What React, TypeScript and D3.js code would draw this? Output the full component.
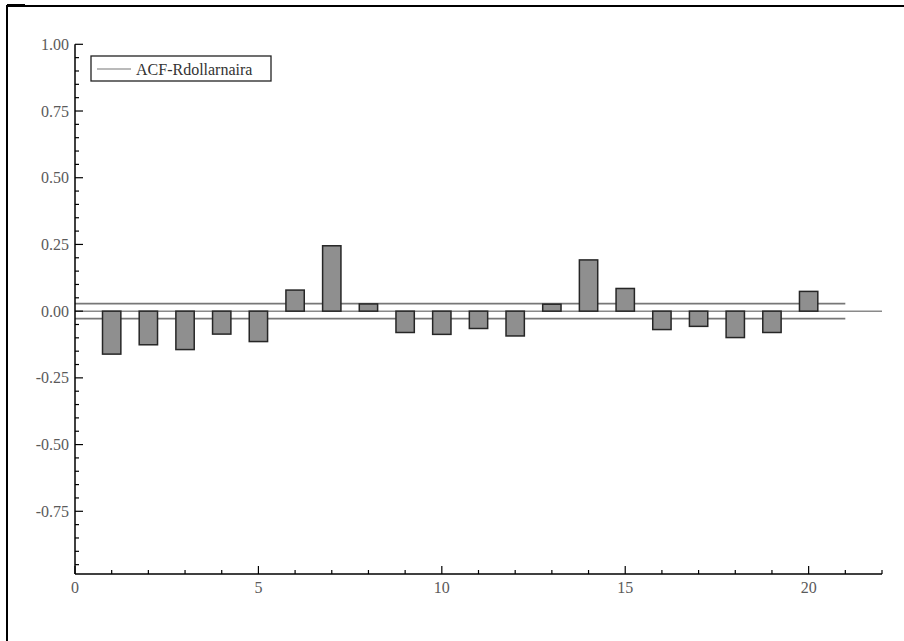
import React from "react";
import * as d3 from "d3";

// Autocorrelation of the dollar/naira return series, lags 1..20
const lags = [1, 2, 3, 4, 5, 6, 7, 8, 9, 10, 11, 12, 13, 14, 15, 16, 17, 18, 19, 20];
const acfValues = [
  -0.161, -0.126, -0.144, -0.086, -0.114, 0.079, 0.245, 0.027, -0.080, -0.087,
  -0.065, -0.093, 0.026, 0.192, 0.085, -0.069, -0.057, -0.099, -0.080, 0.074,
];
const confidenceBound = 0.028;
const seriesName = "ACF-Rdollarnaira";
const yTickLabels = [1.0, 0.75, 0.5, 0.25, 0, -0.25, -0.5, -0.75];
const xTickLabels = [0, 5, 10, 15, 20];

const W = 904;
const H = 641;
const textStyle = { fontFamily: "'Liberation Serif', 'DejaVu Serif', serif" };

export default function App() {
  const x = d3.scaleLinear().domain([0, 22]).range([75, 882]);
  const y = d3.scaleLinear().domain([-0.985, 1]).range([574, 44.3]);

  const barW = x(0.5) - x(0);
  const yMinor = d3.range(-19, 21).map((i) => i * 0.05);
  const xMinor = d3.range(0, 23);

  const fmtY = (v: number) => v.toFixed(2);

  return (
    <svg
      width={W}
      height={H}
      style={{ position: "absolute", left: 0, top: 0, background: "#fff" }}
    >
      {/* frame */}
      <line x1={7} y1={6} x2={W} y2={6} stroke="#000" strokeWidth={2} />
      <line x1={7} y1={5} x2={7} y2={H} stroke="#000" strokeWidth={2} />
      <line x1={7} y1={5.5} x2={25} y2={5.5} stroke="#000" strokeWidth={3} />

      {/* reference lines */}
      <line x1={x(0)} x2={x(22)} y1={y(0)} y2={y(0)} stroke="#8a8a8a" strokeWidth={1.5} />
      <line
        x1={x(0)}
        x2={x(21)}
        y1={y(confidenceBound)}
        y2={y(confidenceBound)}
        stroke="#777"
        strokeWidth={1.8}
      />
      <line
        x1={x(0)}
        x2={x(21)}
        y1={y(-confidenceBound)}
        y2={y(-confidenceBound)}
        stroke="#777"
        strokeWidth={1.8}
      />

      {/* bars */}
      {lags.map((lag, i) => {
        const v = acfValues[i];
        const y0 = y(Math.max(0, v));
        const y1 = y(Math.min(0, v));
        return (
          <rect
            key={lag}
            x={x(lag) - barW / 2}
            y={y0}
            width={barW}
            height={y1 - y0}
            fill="#8f8f8f"
            stroke="#262626"
            strokeWidth={1.5}
          />
        );
      })}

      {/* y axis */}
      <line x1={x(0)} x2={x(0)} y1={y(1)} y2={y(-0.985)} stroke="#000" strokeWidth={1.5} />
      {yMinor.map((v) => {
        const major = yTickLabels.some((t) => Math.abs(t - v) < 1e-6);
        return (
          <line
            key={"yt" + v}
            x1={x(0)}
            x2={x(0) + (major ? 8 : 4)}
            y1={y(v)}
            y2={y(v)}
            stroke="#000"
            strokeWidth={1.2}
          />
        );
      })}
      {yTickLabels.map((v) => (
        <text
          key={"yl" + v}
          x={x(0) - 6}
          y={y(v)}
          textAnchor="end"
          dominantBaseline="central"
          fontSize={16}
          fill="#5a5a5a"
          style={textStyle}
        >
          {fmtY(v)}
        </text>
      ))}

      {/* x axis */}
      <line x1={x(0)} x2={x(22)} y1={y(-0.985)} y2={y(-0.985)} stroke="#000" strokeWidth={1.5} />
      {xMinor.map((v) => {
        const major = v % 5 === 0;
        return (
          <line
            key={"xt" + v}
            x1={x(v)}
            x2={x(v)}
            y1={y(-0.985)}
            y2={y(-0.985) - (major ? 8 : 4)}
            stroke="#000"
            strokeWidth={1.2}
          />
        );
      })}
      {xTickLabels.map((v) => (
        <text
          key={"xl" + v}
          x={x(v)}
          y={y(-0.985) + 13}
          textAnchor="middle"
          dominantBaseline="central"
          fontSize={16}
          fill="#5a5a5a"
          style={textStyle}
        >
          {v}
        </text>
      ))}

      {/* legend */}
      <rect x={91} y={56} width={180} height={25} fill="#fff" stroke="#222" strokeWidth={1.3} />
      <line x1={97} x2={131} y1={69} y2={69} stroke="#777" strokeWidth={1.2} />
      <text
        x={136}
        y={69}
        dominantBaseline="central"
        fontSize={16}
        fill="#333"
        style={textStyle}
      >
        {seriesName}
      </text>
    </svg>
  );
}
